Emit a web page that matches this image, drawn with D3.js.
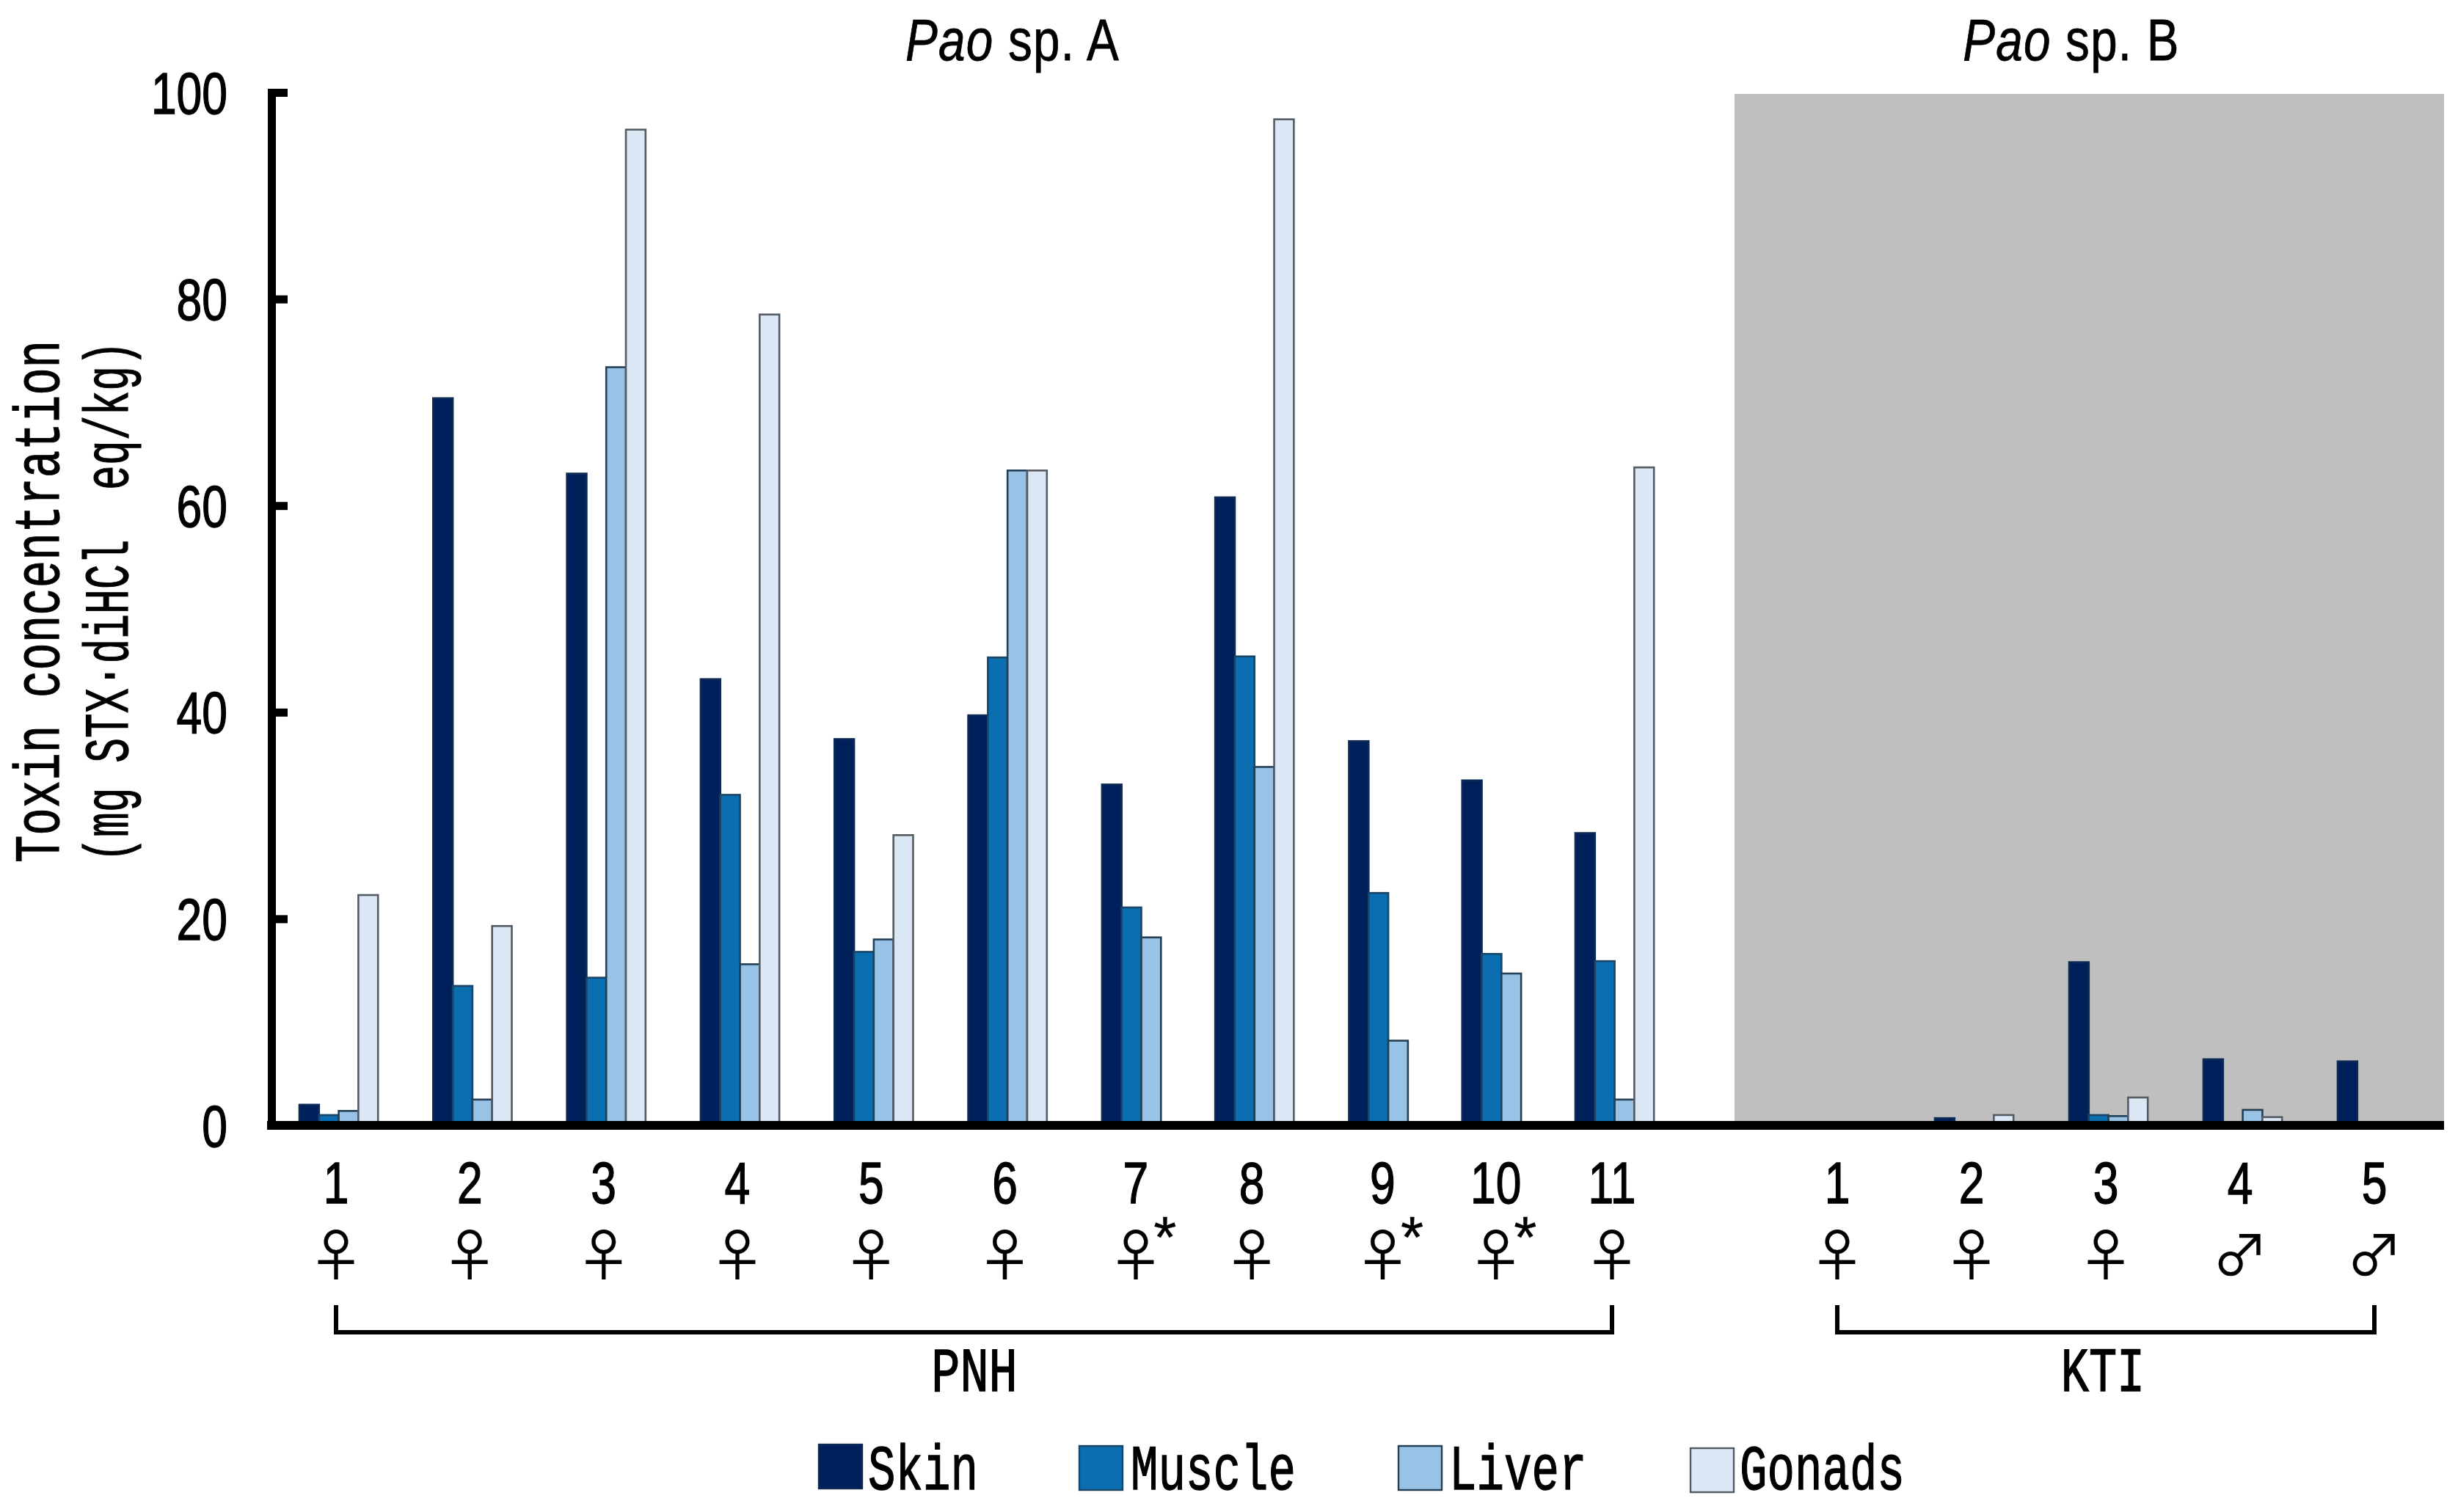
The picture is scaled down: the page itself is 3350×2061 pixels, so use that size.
<!DOCTYPE html>
<html><head><meta charset="utf-8">
<style>html,body{margin:0;padding:0;background:#fff}svg{display:block}</style>
<script src="https://cdn.jsdelivr.net/npm/d3@7"></script>
</head><body><div id="chart"></div>
<script>
const seriesNames = ["Skin","Muscle","Liver","Gonads"];
const seriesFill = ["#00205c","#0a6eb0","#98c3e6","#dbe7f4"];
const seriesEdge = ["#0d2a55","#1a4566","#223f55","#555b63"];
const labelsA = ["1","2","3","4","5","6","7","8","9","10","11"];
const sexA = ["♀","♀","♀","♀","♀","♀","♀","♀","♀","♀","♀"];
const starA = [0,0,0,0,0,0,1,0,1,1,0];
const skinA   = [2.0,70.4,63.1,43.2,37.4,39.7,33.0,60.8,37.2,33.4,28.3];
const muscleA = [1.0,13.5,14.3,32.0,16.8,45.3,21.1,45.4,22.5,16.6,15.9];
const liverA  = [1.4,2.5,73.4,15.6,18.0,63.4,18.2,34.7,8.2,14.7,2.5];
const gonadsA = [22.3,19.3,96.4,78.5,28.1,63.4,null,97.4,null,null,63.7];
const labelsB = ["1","2","3","4","5"];
const sexB = ["♀","♀","♀","♂","♂"];
const skinB   = [0,0.7,15.8,6.4,6.2];
const muscleB = [0,0,1.0,0.3,0];
const liverB  = [0,0,0.9,1.5,0];
const gonadsB = [0,1.0,2.7,0.8,0];
const yTicks = [0,20,40,60,80,100];

const W=3350,H=2061;
const MONO='"Liberation Mono","DejaVu Sans Mono",monospace';
const SANS='"Liberation Sans",Arial,sans-serif';
const svg=d3.select("#chart").append("svg").attr("width",W).attr("height",H).attr("viewBox",`0 0 ${W} ${H}`);
const y=d3.scaleLinear().domain([0,100]).range([1534,126]);
const BAR=26.8, FULL=6.5;

svg.append("rect").attr("x",2364).attr("y",y(100)+2).attr("width",3331-2364).attr("height",y(0)-y(100)-2).attr("fill","#bfbfbf");

function tx(sel,s,x,yy,o={}){
  const t=sel.append("text").text(s).attr("font-family",o.family||MONO)
    .attr("font-size",o.size||86).attr("fill","#000").attr("stroke","#000").attr("stroke-width",o.sw===undefined?1.4:o.sw)
    .attr("text-anchor",o.anchor||"middle")
    .attr("transform",`translate(${x},${yy}) rotate(${o.rot||0}) scale(${o.sx||0.67},1)`);
  return t;
}

function panel(labels,sex,stars,series,x0,x1,span){
  const xs=d3.scaleLinear().domain([0,span]).range([x0,x1]);
  let cum=0; const starts=[];
  labels.forEach((_,i)=>{
    const n=series.filter(a=>a[i]!==null).length;
    starts.push({i,n,x:xs(cum)}); cum+=FULL-(4-n);
  });
  const g=svg.append("g");
  series.forEach((vals,si)=>{
    g.append("g").selectAll("rect").data(starts.filter(d=>vals[d.i]!==null)).join("rect")
      .attr("x",d=>d.x+si*BAR).attr("width",BAR)
      .attr("y",d=>y(vals[d.i])).attr("height",d=>y(0)-y(vals[d.i]))
      .attr("fill",seriesFill[si]).attr("stroke",seriesEdge[si]).attr("stroke-width",2.6);
  });
  const centers=starts.map(d=>d.x+50-(4-d.n)*4);
  starts.forEach((d,k)=>{
    const c=centers[k];
    tx(svg,labels[d.i],c,1640,{family:SANS,size:80,sx:0.78});
    tx(svg,sex[d.i],c,1739,{family:'"Noto Sans CJK JP"',size:76,sx:1,sw:0.2});
    if(stars[d.i]) tx(svg,"*",c+40,1714,{family:SANS,size:80,sx:1,sw:0.4});
  });
  return centers;
}

const cA=panel(labelsA,sexA,starA,[skinA,muscleA,liverA,gonadsA],408,2147,62);
const cB=panel(labelsB,sexB,[0,0,0,0,0],[skinB,muscleB,liverB,gonadsB],2454,3186,26);

// baseline and y axis
svg.append("line").attr("x1",364).attr("x2",3331).attr("y1",y(0)).attr("y2",y(0)).attr("stroke","#000").attr("stroke-width",12);
const ax=svg.append("g").attr("transform","translate(370,0)")
  .call(d3.axisLeft(y).tickValues(yTicks).tickSizeOuter(0).tickSizeInner(-22).tickPadding(60));
ax.select(".domain").attr("stroke","#000").attr("stroke-width",11).attr("stroke-linecap","square");
ax.selectAll(".tick line").attr("stroke","#000").attr("stroke-width",11);
ax.selectAll(".tick text")
  .attr("font-family",SANS).attr("font-size",80).attr("fill","#000").attr("stroke","#000").attr("stroke-width",1.4)
  .attr("text-anchor","end").attr("x",0).attr("dy",0)
  .attr("transform","translate(-60,28) scale(0.78,1)");

// brackets
function bracket(a,b,label,lx,sx){
  svg.append("path").attr("fill","none").attr("stroke","#000").attr("stroke-width",6)
    .attr("d",d3.line()([[a,1779],[a,1816],[b,1816],[b,1779]]));
  tx(svg,label,lx,1896,{sx});
}
bracket(cA[0],cA[cA.length-1],"PNH",1328,0.76);
bracket(cB[0],cB[cB.length-1],"KTI",2866,0.74);

// titles
function title(letter,x){
  const t=svg.append("text").attr("font-family",SANS).attr("font-size",80).attr("fill","#000")
    .attr("text-anchor","middle").attr("stroke","#000").attr("stroke-width",0.8).attr("xml:space","preserve")
    .attr("letter-spacing",1.5)
    .attr("transform",`translate(${x},82) scale(0.82,1)`);
  t.append("tspan").attr("font-style","italic").text("Pao");
  t.append("tspan").text(" sp. "+letter);
}
title("A",1380); title("B",2823);

// y label
tx(svg,"Toxin concentration",80,820,{rot:-90,size:88,sx:0.71,sw:1.2});
tx(svg,"(mg STX·diHCl  eq/kg)",174,820,{rot:-90,size:86,sx:0.655,sw:1.2}).attr("xml:space","preserve").style("white-space","pre");

// legend
const legendX=[1116,1471,1906,2304], legendTextX=[1183,1541,1975,2371], legendY=[1969,1971,1971,1974];
seriesNames.forEach((n,i)=>{
  svg.append("rect").attr("x",legendX[i]).attr("y",legendY[i]).attr("width",59).attr("height",60)
    .attr("fill",seriesFill[i]).attr("stroke",seriesEdge[i]).attr("stroke-width",2.4);
  tx(svg,n,legendTextX[i],2030,{anchor:"start",size:88,sx:0.71});
});
</script></body></html>
